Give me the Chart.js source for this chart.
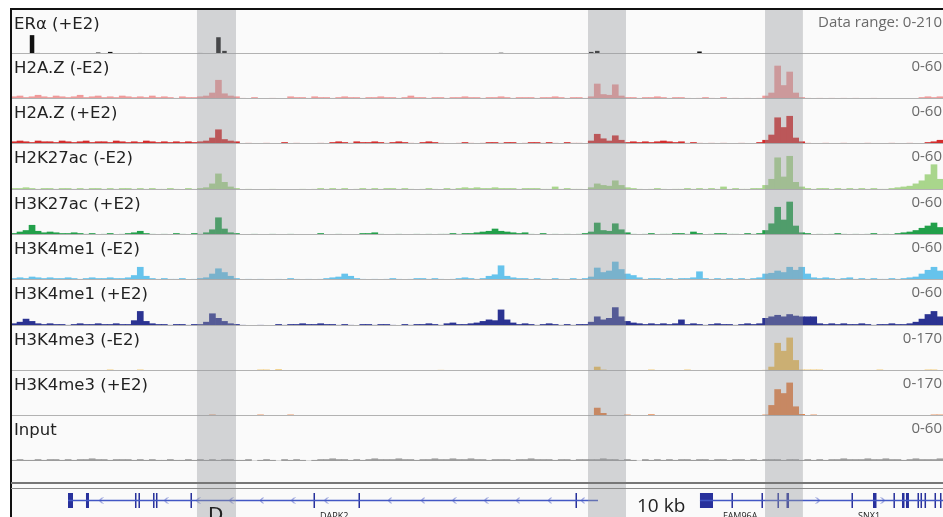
<!DOCTYPE html>
<html>
<head>
<meta charset="utf-8">
<script src="https://cdn.jsdelivr.net/npm/chart.js@4.4.1/dist/chart.umd.min.js"></script>
<style>
  html, body { margin: 0; padding: 0; background: #fff; }
  body { width: 943px; height: 517px; position: relative; overflow: hidden; }
  #panel { position: absolute; left: 11px; top: 10px; width: 932px; height: 507px; background: #fafafa; }
  canvas { position: absolute; left: 11px; }
  .lbl { position: absolute; left: 14px; font: 16.5px/16px 'DejaVu Sans', sans-serif; color: #222; white-space: nowrap; }
  .rng { position: absolute; right: 1px; font: 15px/15px 'Open Sans', sans-serif; color: #6a6a6a; white-space: nowrap; }
  .gene { position: absolute; font: 9px/9px 'Open Sans', sans-serif; color: #222; white-space: nowrap; }
</style>
</head>
<body>
<div id="panel"></div>
<script>
// genomic window split into 155 equal bins
const BINS = 155;

const trackNames = ['ERα (+E2)', 'H2A.Z (-E2)', 'H2A.Z (+E2)', 'H2K27ac (-E2)', 'H3K27ac (+E2)',
  'H3K4me1 (-E2)', 'H3K4me1 (+E2)', 'H3K4me3 (-E2)', 'H3K4me3 (+E2)', 'Input'];
const rangeLabels = ['Data range: 0-210', '0-60', '0-60', '0-60', '0-60', '0-60', '0-60', '0-170', '0-170', '0-60'];
const rangeMax = [210, 60, 60, 60, 60, 60, 60, 170, 170, 60];

// sparse tracks: [bin, value]
const eraPeaks = [[3, 90], [4, 5], [14, 7], [16, 10], [21, 5], [31, 5], [34, 80], [35, 15], [71, 5], [81, 6],
  [95, 4], [96, 10], [97, 15], [100, 4], [101, 4], [114, 12]];
const h3k4me3MinusPeaks = [[16, 4], [21, 4], [41, 4], [42, 4], [44, 5], [71, 3], [97, 15], [98, 4], [106, 4], [112, 4],
  [125, 3], [126, 15], [127, 105], [128, 75], [129, 125], [130, 40], [131, 4], [132, 4], [133, 4], [134, 4],
  [144, 4], [152, 4], [153, 4]];
const h3k4me3PlusPeaks = [[33, 4], [41, 4], [46, 4], [97, 30], [98, 10], [102, 4], [106, 5], [125, 4],
  [126, 40], [127, 100], [128, 85], [129, 125], [130, 35], [131, 6], [133, 4], [153, 4], [154, 4]];

// dense tracks, one value per bin
const h2azMinus = [
  3,4,2,3,5,3,2,4,3,2,3,5,2,3,4,2,3,2,4,3,
  2,3,2,4,2,3,2,1,3,2,2,3,4,8,25,7,4,3,1,0,
  2,0,0,1,0,0,3,2,2,1,3,2,2,1,2,3,2,2,1,2,
  2,3,2,2,1,2,4,2,2,1,2,2,1,2,2,3,2,2,1,2,
  2,3,2,1,2,2,2,1,2,2,3,2,1,2,2,1,3,20,6,5,
  19,4,2,2,1,2,2,3,2,1,2,2,1,0,1,2,1,0,2,0,
  1,0,1,0,1,4,8,44,18,36,8,2,1,0,1,0,1,0,1,0,
  1,0,0,1,0,0,0,0,0,0,0,2,3,2,3];
const h2azPlus = [
  3,4,3,2,4,3,3,2,4,3,2,3,4,2,3,3,2,4,3,2,
  3,2,4,3,2,3,2,3,2,3,2,3,4,8,19,6,4,3,0,1,
  0,0,1,0,0,2,0,1,0,0,0,1,0,2,3,2,1,3,2,2,
  3,2,1,2,3,2,1,0,2,3,2,1,0,0,1,2,1,0,1,2,
  2,1,2,2,0,1,2,2,1,2,1,0,2,1,1,0,4,13,7,4,
  11,5,2,3,2,3,2,3,4,3,2,3,1,2,1,0,1,0,1,0,
  0,1,0,0,2,5,12,35,22,37,8,3,1,0,0,1,0,0,1,0,
  0,0,1,0,0,0,1,0,0,1,0,0,2,3,5];
const h2k27acMinus = [
  2,2,3,2,1,2,2,1,2,2,1,2,1,2,2,1,2,1,2,2,
  1,2,1,2,1,1,2,1,0,2,1,2,3,8,21,10,4,2,0,1,
  0,0,0,1,0,0,0,0,1,0,1,2,1,2,1,2,0,1,2,1,
  2,1,2,2,1,2,1,0,1,2,1,0,2,1,2,3,2,3,2,2,
  3,2,2,2,1,2,2,2,1,1,4,1,2,1,1,0,3,8,6,5,
  12,6,3,2,1,0,1,2,1,0,1,1,2,1,2,1,2,1,4,1,
  2,1,1,2,2,6,14,42,17,44,10,4,2,1,2,2,1,2,1,2,
  1,2,1,2,1,1,2,3,4,5,8,12,20,33,14];
const h3k27acPlus = [
  2,4,6,13,5,3,4,3,2,2,3,2,1,2,0,1,2,0,1,2,
  3,5,2,1,0,1,0,2,1,0,2,1,3,7,23,8,3,2,0,0,
  1,0,0,1,0,0,1,0,0,0,0,2,0,0,1,0,0,0,2,2,
  3,1,0,0,1,0,0,1,0,1,0,1,1,2,1,2,2,3,4,5,
  8,5,4,3,2,3,1,0,2,0,1,0,1,0,1,2,4,16,6,5,
  15,7,3,1,0,1,2,0,1,1,2,2,1,4,2,0,1,2,2,1,
  1,0,2,1,2,6,15,37,20,44,12,3,2,0,1,0,1,2,1,0,
  1,0,1,2,0,1,0,2,3,4,6,9,12,16,10];
const h3k4me1Minus = [
  2,3,2,4,3,2,3,2,2,3,2,1,2,3,2,2,3,2,2,3,
  6,17,5,2,1,2,1,1,2,0,1,2,3,8,15,10,5,2,0,1,
  0,1,0,0,1,0,2,1,0,1,0,1,2,3,4,8,5,2,1,0,
  1,0,1,2,1,0,1,2,2,1,2,1,0,1,2,3,2,1,2,5,
  7,19,5,3,2,2,1,2,1,0,2,1,0,2,1,2,4,16,10,12,
  24,14,8,6,3,1,2,2,1,2,1,2,2,3,11,2,1,2,1,2,
  1,2,1,2,3,8,9,12,10,17,13,17,8,3,2,3,2,1,2,3,
  1,2,1,2,1,1,2,1,2,3,4,8,13,17,12];
const h3k4me1Plus = [
  3,5,9,6,3,2,3,2,2,1,2,3,2,2,3,2,2,3,2,2,
  7,19,6,3,2,2,1,2,2,1,2,2,5,16,10,6,3,2,1,0,
  0,1,0,0,2,1,2,2,3,2,2,3,2,2,1,2,1,0,2,2,
  1,2,2,1,0,2,1,2,2,3,2,1,3,4,2,2,3,4,6,8,
  7,21,8,4,2,3,2,1,2,3,2,1,2,1,2,2,5,12,8,10,
  24,12,6,4,3,2,3,2,3,2,3,8,2,3,2,1,2,3,2,2,
  1,2,3,2,3,10,12,14,12,15,13,12,12,12,3,2,3,2,3,2,
  2,3,2,1,2,2,3,2,2,3,5,9,15,19,12];
const inputTrack = [
  1,2,1,1,2,1,2,2,1,2,1,2,2,3,2,2,1,2,2,2,
  1,2,1,2,1,1,2,1,1,2,1,2,1,2,1,2,2,1,1,2,
  0,1,2,1,0,2,1,2,1,0,1,2,2,3,2,2,1,2,1,2,
  3,2,2,2,3,2,2,1,2,2,3,2,2,3,2,2,3,2,2,1,
  2,2,2,1,2,2,3,2,2,2,1,2,2,1,2,2,2,2,3,2,
  2,1,2,1,0,2,1,2,1,2,1,2,2,1,2,2,1,2,2,1,
  2,2,1,2,1,2,2,2,1,2,2,1,2,1,2,1,2,2,3,2,
  2,2,3,2,2,3,2,2,1,2,3,2,2,2,3];

// highlighted loci, in bin units
const shadedRegions = [[30.93, 37.42], [95.96, 102.28], [125.4, 131.7]];

// gene model, in bin units
const introns = [[9.48, 97.62], [114.58, 155]];
const exons = [[9.48, 10.31], [12.47, 12.97], [20.62, 20.87], [21.2, 21.45], [23.62, 23.87], [24.11, 24.36],
  [29.85, 30.1], [50.31, 50.56], [57.79, 58.04], [93.88, 94.13],
  [114.58, 116.75], [119.82, 120.07], [124.81, 125.06], [127.47, 127.72], [128.97, 129.39],
  [139.78, 140.03], [143.36, 143.94], [146.76, 147.01], [148.18, 148.6], [148.84, 149.34],
  [150.76, 151.01], [151.26, 151.51], [151.93, 152.18], [153.59, 153.84], [154.5, 154.75]];
const leftArrows = [14.97, 25.78, 31.1, 36.6, 41.7, 46.9, 52.4, 63.0, 68.5, 73.7, 79.0, 84.3, 89.6, 95.1];
const rightArrows = [134.2, 145.0];

function fromPeaks(peaks) {
  const out = new Array(BINS).fill(0);
  peaks.forEach(([b, v]) => { out[b] = v; });
  return out;
}

const trackSeries = [fromPeaks(eraPeaks), h2azMinus, h2azPlus, h2k27acMinus, h3k27acPlus,
  h3k4me1Minus, h3k4me1Plus, fromPeaks(h3k4me3MinusPeaks), fromPeaks(h3k4me3PlusPeaks), inputTrack];
const trackColors = ['#111111', '#f09a9a', '#d42c2c', '#a9d68c', '#22a04a',
  '#66c3ec', '#2b3392', '#efbf58', '#e87d3c', '#9c9c9c'];
const trackTops = [10, 54, 99, 144, 190, 235, 280, 326, 371, 416, 461];

const shadePlugin = {
  id: 'shade',
  afterDatasetsDraw(chart, args, opts) {
    const { ctx, scales: { x } } = chart;
    ctx.save();
    if (opts.baseline) {
      ctx.strokeStyle = '#b2b2b2';
      ctx.lineWidth = 1;
      ctx.beginPath();
      ctx.moveTo(0, chart.height - 0.5);
      ctx.lineTo(chart.width, chart.height - 0.5);
      ctx.stroke();
    }
    ctx.fillStyle = 'rgba(150,153,158,0.4)';
    shadedRegions.forEach(([a, b]) => {
      const x0 = x.getPixelForValue(a);
      const x1 = x.getPixelForValue(b);
      ctx.fillRect(x0, 0, x1 - x0, chart.height);
    });
    ctx.restore();
  }
};

function addCanvas(top, height) {
  const c = document.createElement('canvas');
  c.width = 932;
  c.height = height;
  c.style.top = top + 'px';
  document.body.appendChild(c);
  return c;
}

function addText(cls, text, css) {
  const d = document.createElement('div');
  d.className = cls;
  d.textContent = text;
  Object.assign(d.style, css);
  document.body.appendChild(d);
}

const baseOptions = {
  responsive: false,
  animation: false,
  events: [],
  layout: { padding: 0, autoPadding: false },
  plugins: { legend: { display: false }, tooltip: { enabled: false } }
};

trackSeries.forEach((series, i) => {
  const canvas = addCanvas(trackTops[i], trackTops[i + 1] - trackTops[i]);
  new Chart(canvas, {
    type: 'bar',
    data: {
      datasets: [{
        data: series.map((v, b) => ({ x: b + 0.5, y: v })),
        backgroundColor: trackColors[i],
        borderWidth: 0,
        barPercentage: i === 0 ? 0.75 : 1,
        categoryPercentage: 1,
        grouped: false
      }]
    },
    options: {
      ...baseOptions,
      plugins: { ...baseOptions.plugins, shade: { baseline: i < trackSeries.length - 1 } },
      scales: {
        x: { type: 'linear', min: 0, max: BINS, offset: false, display: false },
        y: { min: 0, max: rangeMax[i], display: false }
      }
    },
    plugins: [shadePlugin]
  });
});

// gene annotation row
function chevron(dir) {
  const c = document.createElement('canvas');
  c.width = 5; c.height = 7;
  const g = c.getContext('2d');
  g.strokeStyle = '#4a5bc6';
  g.lineWidth = 1;
  g.beginPath();
  if (dir < 0) { g.moveTo(4, 0.5); g.lineTo(1, 3.5); g.lineTo(4, 6.5); }
  else { g.moveTo(1, 0.5); g.lineTo(4, 3.5); g.lineTo(1, 6.5); }
  g.stroke();
  return c;
}

function spans(list) {
  return list.flatMap(([a, b]) => [{ x: a, y: 0 }, { x: b, y: 0 }, { x: b, y: null }]);
}

const geneCanvas = addCanvas(461, 56);
new Chart(geneCanvas, {
  type: 'line',
  data: {
    datasets: [
      { data: spans(introns), borderColor: '#4257c4', borderWidth: 1.4, pointRadius: 0, spanGaps: false },
      { data: spans(exons), borderColor: '#28319c', borderWidth: 15, borderCapStyle: 'butt', pointRadius: 0, spanGaps: false },
      { data: leftArrows.map(p => ({ x: p, y: 0 })), showLine: false, pointStyle: chevron(-1), pointRadius: 3 },
      { data: rightArrows.map(p => ({ x: p, y: 0 })), showLine: false, pointStyle: chevron(1), pointRadius: 3 }
    ]
  },
  options: {
    ...baseOptions,
    layout: { padding: { top: 23, bottom: 0, left: 0, right: 0 }, autoPadding: false },
    plugins: { ...baseOptions.plugins, shade: { baseline: false } },
    scales: {
      x: { type: 'linear', min: 0, max: BINS, offset: false, display: false },
      y: { min: -1, max: 1, display: false }
    }
  },
  plugins: [shadePlugin]
});

// labels
trackNames.forEach((name, i) => {
  addText('lbl', name, { top: (trackTops[i] + 6) + 'px' });
  addText('rng', rangeLabels[i], { top: (trackTops[i] + 4) + 'px' });
});
addText('gene', 'DAPK2', { left: '320px', top: '511px' });
addText('gene', 'FAM96A', { left: '723px', top: '511px' });
addText('gene', 'SNX1', { left: '858px', top: '511px' });
addText('gene', 'D', { left: '208px', top: '504px', font: '20px/20px "DejaVu Sans", sans-serif' });
addText('gene', '10 kb', { left: '637px', top: '496px', font: '19px/19px "Open Sans", sans-serif' });

// frame and bottom double rule
function addRule(css) {
  const d = document.createElement('div');
  d.style.position = 'absolute';
  Object.assign(d.style, css);
  document.body.appendChild(d);
}
addRule({ left: '10px', top: '8px', width: '933px', height: '2px', background: '#111' });
addRule({ left: '10px', top: '8px', width: '2px', height: '509px', background: '#111' });
addRule({ left: '11px', top: '482px', width: '932px', height: '2px', background: '#777' });
addRule({ left: '11px', top: '488px', width: '932px', height: '1px', background: '#8a8a8a' });
</script>
</body>
</html>
